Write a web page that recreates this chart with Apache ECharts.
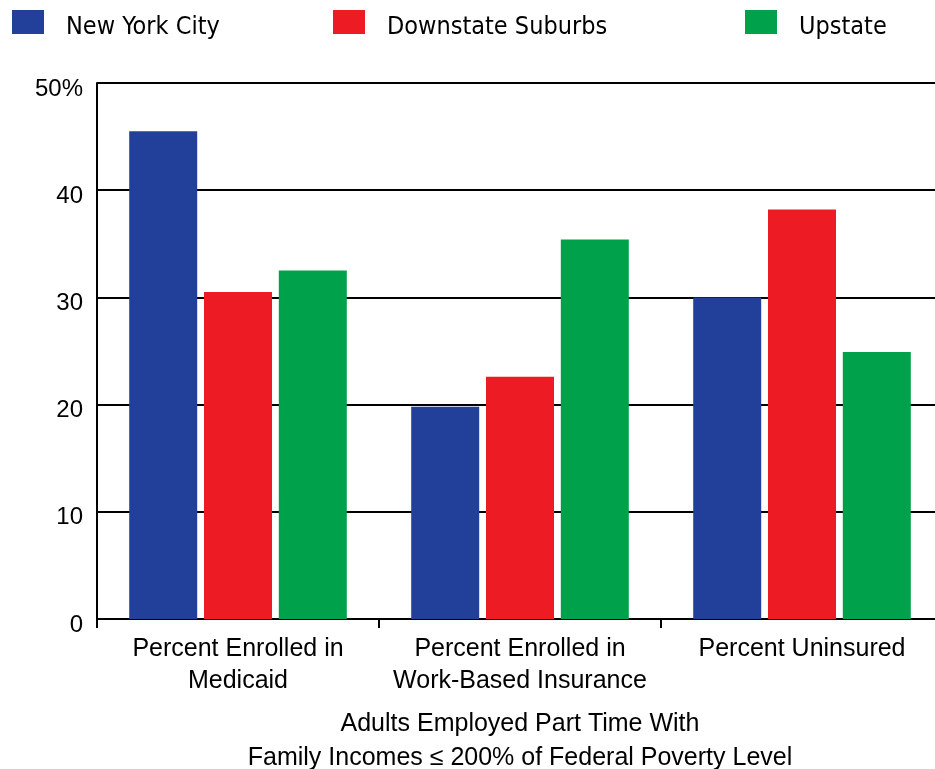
<!DOCTYPE html>
<html>
<head>
<meta charset="utf-8">
<script src="https://cdn.jsdelivr.net/npm/echarts@6/dist/echarts.min.js"></script>
<style>html,body{margin:0;padding:0;background:#fff}#c{width:935px;height:769px}</style>
</head>
<body>
<div id="c"></div>
<script>
const categories = ["Percent Enrolled in\nMedicaid", "Percent Enrolled in\nWork-Based Insurance", "Percent Uninsured"];
const seriesNames = ["New York City", "Downstate Suburbs", "Upstate"];
const nycValues = [45.5, 19.8, 30.0];
const suburbsValues = [30.5, 22.6, 38.2];
const upstateValues = [32.5, 35.4, 24.9];
const yTicks = [0, 10, 20, 30, 40, 50];
const axisTitle = "Adults Employed Part Time With\nFamily Incomes \u2264 200% of Federal Poverty Level";

const colors = ["#22409A", "#ED1C24", "#00A14B"];
const font = "Liberation Sans";
const legendFont = "'DejaVu Sans Condensed', 'Liberation Sans'";

const chart = echarts.init(document.getElementById('c'), null, {renderer: 'canvas'});
const legendX = [12, 333, 745];
const legends = seriesNames.map((n, i) => ({
  data: [n], left: legendX[i], top: 10, padding: 0, itemWidth: 32, itemHeight: 24, itemGap: 0,
  icon: 'rect', selectedMode: false,
  formatter: name => '{t|' + name + '}',
  textStyle: {
    rich: {t: {fontFamily: legendFont, fontSize: 25, color: '#000', padding: [10, 0, 0, 17]}}
  }
}));
const allVals = [nycValues, suburbsValues, upstateValues];
chart.setOption({
  animation: false,
  color: colors,
  legend: legends,
  grid: {left: 97, top: 83, width: 846, height: 536, containLabel: false, outerBoundsMode: 'none'},
  xAxis: {
    type: 'category', data: categories,
    axisLine: {lineStyle: {color: '#000', width: 2}},
    axisTick: {show: true, length: 9, lineStyle: {color: '#000', width: 2}},
    axisLabel: {interval: 0, fontFamily: font, fontSize: 25, color: '#000', lineHeight: 32, margin: 14, hideOverlap: false},
    name: axisTitle, nameLocation: 'middle', nameGap: 88,
    nameTextStyle: {fontFamily: font, fontSize: 25, color: '#000', lineHeight: 34}
  },
  yAxis: {
    type: 'value', min: yTicks[0], max: yTicks[yTicks.length - 1], interval: 10,
    axisLine: {show: true, lineStyle: {color: '#000', width: 2}},
    axisTick: {show: false},
    splitLine: {lineStyle: {color: '#000', width: 2}},
    axisLabel: {margin: 14,
      formatter: v => '{t|' + (v === 50 ? v + '%' : String(v)) + '}',
      rich: {t: {fontFamily: font, fontSize: 24, color: '#000', padding: [12, 0, 0, 0]}}
    }
  },
  series: seriesNames.map((n, i) => ({
    name: n, type: 'bar', data: allVals[i],
    barWidth: 68, barGap: '10%',
    itemStyle: {color: colors[i]}
  }))
});
</script>
</body>
</html>
